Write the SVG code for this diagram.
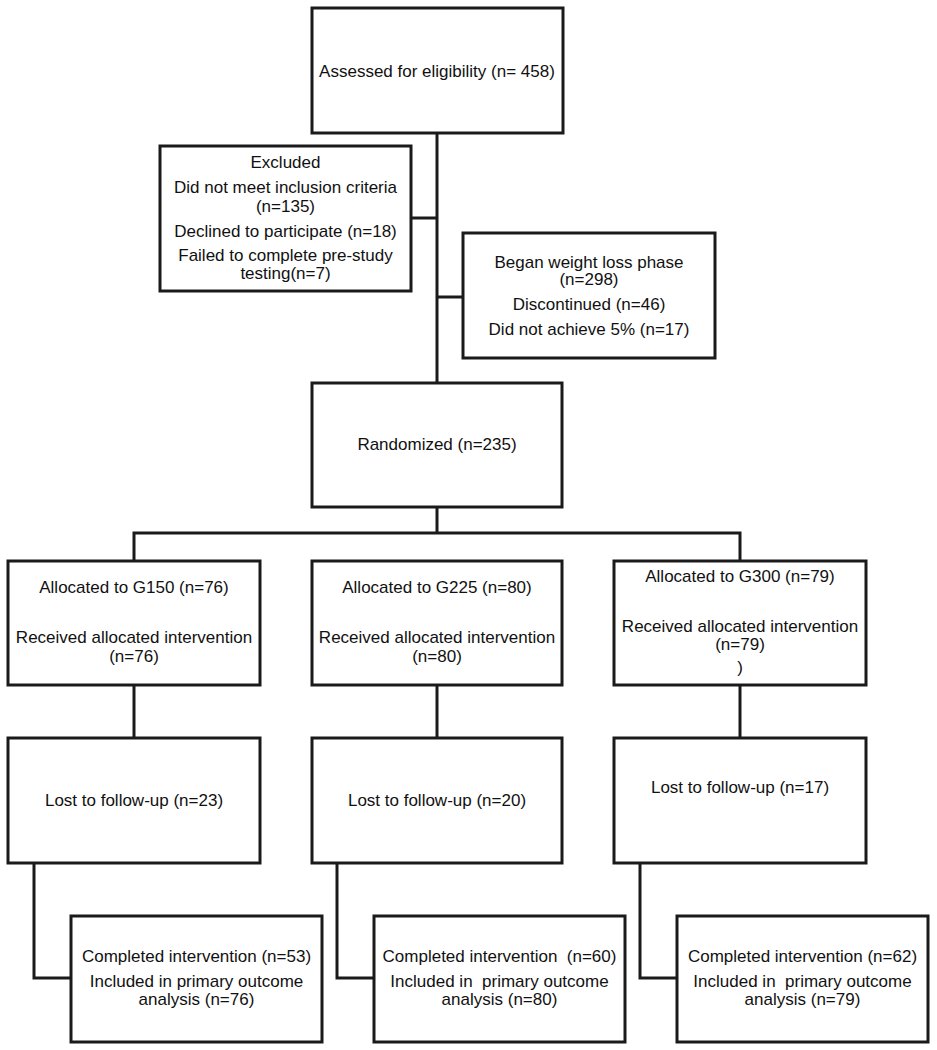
<svg xmlns="http://www.w3.org/2000/svg" width="937" height="1050" viewBox="0 0 937 1050">
<style>
.box{fill:#fff;stroke:#1a1a1a;stroke-width:3}
.ln{fill:none;stroke:#1a1a1a;stroke-width:3}
text{font-family:"Liberation Sans",Arial,sans-serif;font-size:17px;fill:#111;text-anchor:middle;white-space:pre}
</style>
<rect width="937" height="1050" fill="#fff"/>
<g id="connectors">
<path class="ln" d="M437,133 V383"/>
<path class="ln" d="M411,218 H437"/>
<path class="ln" d="M437,297 H463"/>
<path class="ln" d="M437,507 V533"/>
<path class="ln" d="M134,561 V533 H740 V561"/>
<path class="ln" d="M134,685 V738"/>
<path class="ln" d="M437,685 V738"/>
<path class="ln" d="M740,685 V738"/>
<path class="ln" d="M34,863 V978 H71"/>
<path class="ln" d="M337,863 V978 H374"/>
<path class="ln" d="M640,863 V978 H677"/>
</g>
<g id="assessed">
<rect class="box" x="312" y="8" width="251" height="125"/>
<text x="437" y="77">Assessed for eligibility (n= 458)</text>
</g>
<g id="excluded">
<rect class="box" x="160" y="146" width="251" height="145"/>
<text x="285.5" y="168">Excluded</text>
<text x="285.5" y="193">Did not meet inclusion criteria</text>
<text x="285.5" y="212">(n=135)</text>
<text x="285.5" y="237">Declined to participate (n=18)</text>
<text x="285.5" y="261">Failed to complete pre-study</text>
<text x="285.5" y="279">testing(n=7)</text>
</g>
<g id="weightloss">
<rect class="box" x="463" y="233" width="252" height="125"/>
<text x="589" y="268">Began weight loss phase</text>
<text x="589" y="285">(n=298)</text>
<text x="589" y="310">Discontinued (n=46)</text>
<text x="589" y="335">Did not achieve 5% (n=17)</text>
</g>
<g id="randomized">
<rect class="box" x="312" y="383" width="250" height="124"/>
<text x="437" y="450">Randomized (n=235)</text>
</g>
<g id="alloc150">
<rect class="box" x="8" y="561" width="252" height="124"/>
<text x="134" y="593">Allocated to G150 (n=76)</text>
<text x="134" y="643">Received allocated intervention</text>
<text x="134" y="662">(n=76)</text>
</g>
<g id="alloc225">
<rect class="box" x="312" y="561" width="250" height="124"/>
<text x="437" y="593">Allocated to G225 (n=80)</text>
<text x="437" y="643">Received allocated intervention</text>
<text x="437" y="662">(n=80)</text>
</g>
<g id="alloc300">
<rect class="box" x="614" y="561" width="252" height="124"/>
<text x="740" y="582">Allocated to G300 (n=79)</text>
<text x="740" y="632">Received allocated intervention</text>
<text x="740" y="650">(n=79)</text>
<text x="740" y="673">)</text>
</g>
<g id="lost150">
<rect class="box" x="8" y="738" width="252" height="125"/>
<text x="134" y="806">Lost to follow-up (n=23)</text>
</g>
<g id="lost225">
<rect class="box" x="312" y="738" width="250" height="125"/>
<text x="437" y="806">Lost to follow-up (n=20)</text>
</g>
<g id="lost300">
<rect class="box" x="614" y="738" width="252" height="125"/>
<text x="740" y="793">Lost to follow-up (n=17)</text>
</g>
<g id="completed150">
<rect class="box" x="71" y="916" width="251" height="126"/>
<text x="196.5" y="962">Completed intervention (n=53)</text>
<text x="196.5" y="987">Included in primary outcome</text>
<text x="196.5" y="1005">analysis (n=76)</text>
</g>
<g id="completed225">
<rect class="box" x="374" y="916" width="251" height="126"/>
<text x="499.5" y="962">Completed intervention  (n=60)</text>
<text x="499.5" y="987">Included in  primary outcome</text>
<text x="499.5" y="1005">analysis (n=80)</text>
</g>
<g id="completed300">
<rect class="box" x="677" y="916" width="251" height="126"/>
<text x="802.5" y="962">Completed intervention (n=62)</text>
<text x="802.5" y="987">Included in  primary outcome</text>
<text x="802.5" y="1005">analysis (n=79)</text>
</g>
</svg>
